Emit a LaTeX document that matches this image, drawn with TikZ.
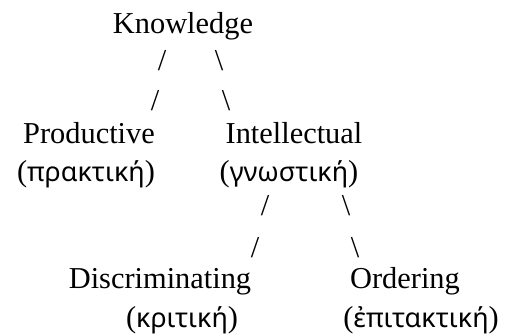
\documentclass[tikz,border=0pt]{standalone}
\usepackage{fontspec}
\setmainfont{Liberation Serif}
\newfontfamily\greekfont[Script=Greek]{Noto Sans}
\newcommand\grtext[1]{({\greekfont\fontsize{27}{30}\selectfont #1})}
\begin{document}
\begin{tikzpicture}[x=1bp,y=-1bp,
  lbl/.style={inner sep=0pt,anchor=base,font=\fontsize{30.5}{36}\selectfont},
  grk/.style={inner sep=0pt,anchor=base,font=\fontsize{30.5}{36}\selectfont},
  sl/.style={inner sep=0pt,anchor=base,font=\fontsize{30.5}{36}\selectfont}]
\useasboundingbox (0,0) rectangle (516,335);
\node[lbl] (know) at (183,33) {Knowledge};
\node[sl] (s1) at (162,70) {/};
\node[sl] (s2) at (219,70) {\char`\\};
\node[sl] (s3) at (155,110) {/};
\node[sl] (s4) at (226,110) {\char`\\};
\node[lbl] (prod) at (89,143) {Productive};
\node[grk] (prodg) at (86,181) {\grtext{πρακτική}};
\node[lbl] (intel) at (294,143) {Intellectual};
\node[grk] (intelg) at (289,181) {\grtext{γνωστική}};
\node[sl] (s5) at (265,215) {/};
\node[sl] (s6) at (346,215) {\char`\\};
\node[sl] (s7) at (255,257) {/};
\node[sl] (s8) at (355,257) {\char`\\};
\node[lbl] (disc) at (160,288) {Discriminating};
\node[grk] (discg) at (182,327) {\grtext{κριτική}};
\node[lbl] (ord) at (405,288) {Ordering};
\node[grk] (ordg) at (421,327) {\grtext{ἐπιτακτική}};
\end{tikzpicture}
\end{document}
